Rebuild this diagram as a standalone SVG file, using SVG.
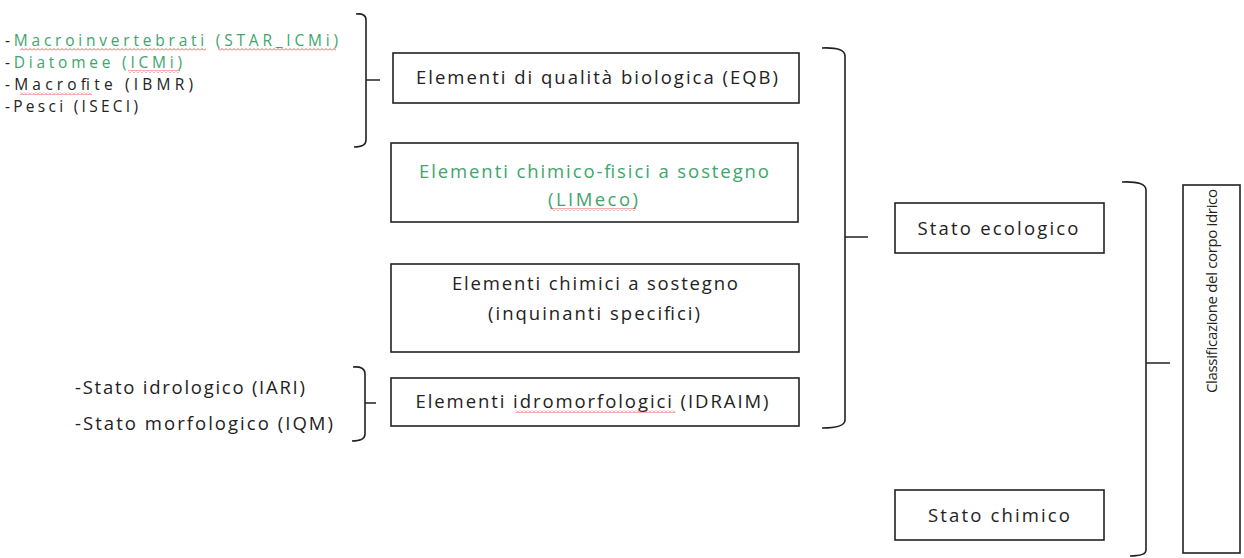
<svg xmlns="http://www.w3.org/2000/svg" width="1244" height="558" viewBox="0 0 1244 558">
  <style>
    .t { font-family: "Open Sans", "Noto Sans", "Liberation Sans", sans-serif; font-size: 18.5px; fill: #222; }
    .s { font-size: 15px; }
    .l { font-size: 15.5px; }
    .g { fill: #3ea56c; }
    .box { fill: #fff; stroke: #222; stroke-width: 1.6; }
    .br { fill: none; stroke: #222; stroke-width: 1.6; }
  </style>
  <defs>
    <pattern id="squig" width="4" height="3" patternUnits="userSpaceOnUse">
      <polyline points="0,2.5 2,0.5 4,2.5" fill="none" stroke="#e03030" stroke-width="0.8"/>
    </pattern>
  </defs>
  <rect width="1244" height="558" fill="#fff"/>

  <g id="list-bio">
    <text class="t l" x="5" y="46" textLength="333" lengthAdjust="spacing">-<tspan class="g">Macroinvertebrati (STAR_ICMi)</tspan></text>
    <text class="t l" x="5" y="68" textLength="177" lengthAdjust="spacing">-<tspan class="g">Diatomee  (ICMi)</tspan></text>
    <text class="t l" x="5" y="90" textLength="188" lengthAdjust="spacing">-Macrofite (IBMR)</text>
    <text class="t l" x="5" y="112" textLength="133" lengthAdjust="spacing">-Pesci (ISECI)</text>
    <rect x="20" y="48" width="186" height="3" fill="url(#squig)"/>
    <rect x="218" y="48" width="118" height="3" fill="url(#squig)"/>
    <rect x="128" y="70" width="52" height="3" fill="url(#squig)"/>
    <rect x="20" y="92" width="72" height="3" fill="url(#squig)"/>
  </g>

  <g id="list-idro">
    <text class="t" x="75" y="394" textLength="230" lengthAdjust="spacing">-Stato idrologico (IARI)</text>
    <text class="t" x="75" y="430" textLength="258" lengthAdjust="spacing">-Stato morfologico (IQM)</text>
  </g>

  <g id="connectors">
    <path class="br" d="M356,14 Q366,13 366,20 L366,140 Q366,147 354,147 M366,80 L380,80"/>
    <path class="br" d="M353,367 Q365,366 365,374 L365,434 Q365,441 352,441 M365,403 L376,403"/>
    <path class="br" d="M822,48 Q845,47 845,56 L845,420 Q845,428 822,428 M845,237 L868,237"/>
    <path class="br" d="M1122,182 Q1146,181 1146,190 L1146,550 Q1146,556 1130,556 M1146,363 L1170,363"/>
  </g>

  <g id="eqb">
    <rect class="box" x="393" y="53" width="406" height="50"/>
    <text class="t" x="597" y="84" text-anchor="middle" textLength="362" lengthAdjust="spacing">Elementi di qualità biologica (EQB)</text>
  </g>

  <g id="limeco">
    <rect class="box" x="391" y="143" width="407" height="79"/>
    <text class="t g" x="594" y="178" text-anchor="middle" textLength="350" lengthAdjust="spacing">Elementi chimico-fisici a sostegno</text>
    <text class="t g" x="593" y="206" text-anchor="middle" textLength="90" lengthAdjust="spacing">(LIMeco)</text>
    <rect x="550" y="208" width="86" height="3" fill="url(#squig)"/>
  </g>

  <g id="chimici">
    <rect class="box" x="391" y="264" width="408" height="88"/>
    <text class="t" x="595" y="290" text-anchor="middle" textLength="286" lengthAdjust="spacing">Elementi chimici a sostegno</text>
    <text class="t" x="594" y="320" text-anchor="middle" textLength="212" lengthAdjust="spacing">(inquinanti specifici)</text>
  </g>

  <g id="idraim">
    <rect class="box" x="391" y="378" width="408" height="48"/>
    <text class="t" x="592" y="408" text-anchor="middle" textLength="353" lengthAdjust="spacing">Elementi idromorfologici (IDRAIM)</text>
    <rect x="515" y="410" width="160" height="3" fill="url(#squig)"/>
  </g>

  <g id="ecologico">
    <rect class="box" x="895" y="203" width="209" height="50"/>
    <text class="t" x="998" y="235" text-anchor="middle" textLength="161" lengthAdjust="spacing">Stato ecologico</text>
  </g>

  <g id="chimico">
    <rect class="box" x="895" y="490" width="209" height="50"/>
    <text class="t" x="999" y="522" text-anchor="middle" textLength="142" lengthAdjust="spacing">Stato chimico</text>
  </g>

  <g id="classificazione">
    <rect class="box" x="1183" y="185" width="57" height="368"/>
    <text class="t s" transform="translate(1217,291) rotate(-90)" x="0" y="0" text-anchor="middle" textLength="204" lengthAdjust="spacing">Classificazione del corpo idrico</text>
  </g>
</svg>
